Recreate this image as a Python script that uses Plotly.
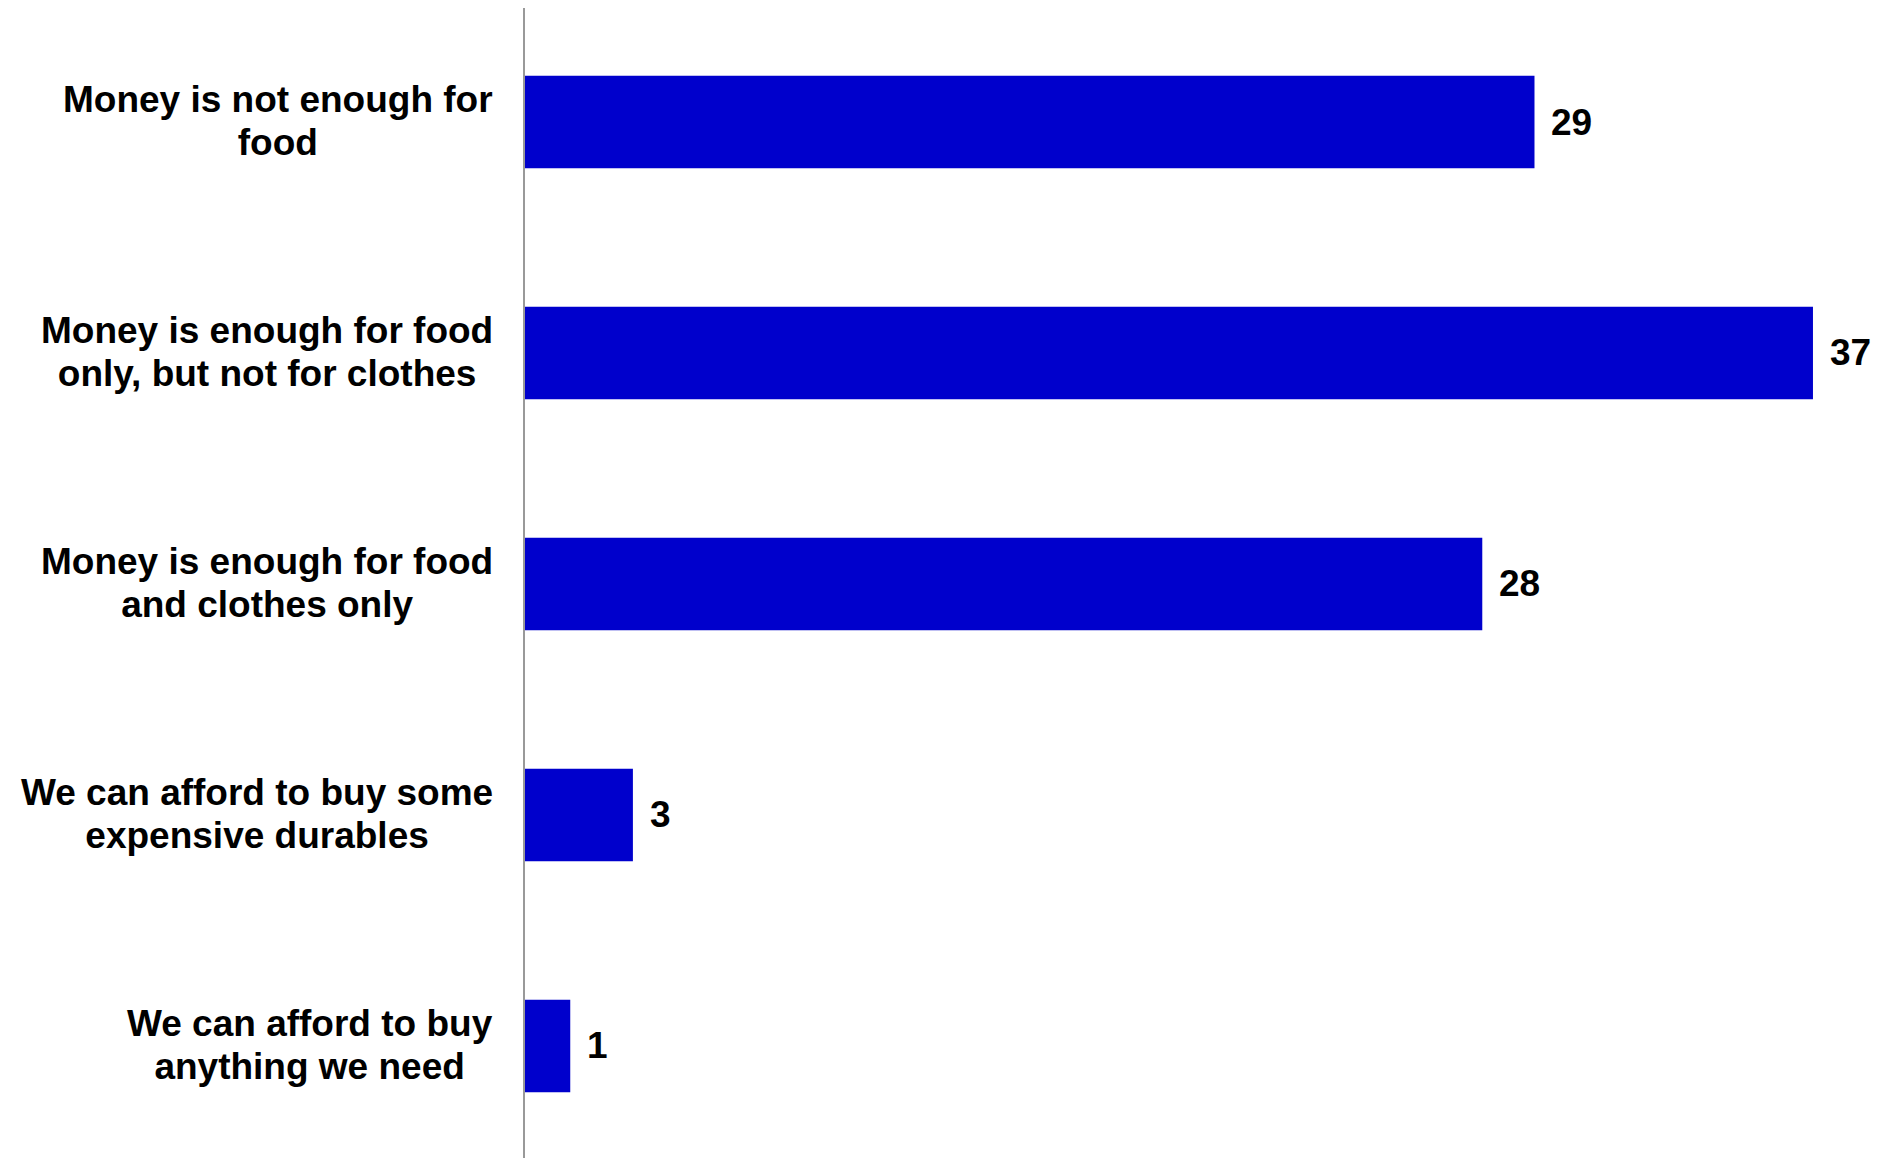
import plotly.graph_objects as go

categories = [
    "Money is not enough for<br>food",
    "Money is enough for food<br>only, but not for clothes",
    "Money is enough for food<br>and clothes only",
    "We can afford to buy some<br>expensive durables",
    "We can afford to buy<br>anything we need",
]
values = [29, 37, 27.5, 3.1, 1.3]
value_labels = ["29", "37", "28", "3", "1"]

BAR_COLOR = "#0000CC"
FONT = "Liberation Sans, Arial, sans-serif"
TEXT_PX = 37

fig = go.Figure()
fig.add_trace(go.Bar(
    x=values,
    y=categories,
    orientation="h",
    marker=dict(color=BAR_COLOR, line=dict(width=0)),
    width=0.4,
    hoverinfo="skip",
))

annotations = []
for cat in categories:
    lines = cat.split("<br>")
    txt = "<br>".join(f"<span style='font-size:{TEXT_PX}px'>{ln}</span>" for ln in lines)
    annotations.append(dict(
        x=0, xref="paper", y=cat, yref="y",
        xanchor="right", yanchor="middle", xshift=-30, yshift=1,
        text=txt, showarrow=False, align="center",
        font=dict(family=FONT, size=33, color="black", weight="bold"),
    ))
for cat, v, lab in zip(categories, values, value_labels):
    annotations.append(dict(
        x=v, xref="x", y=cat, yref="y",
        xanchor="left", yanchor="middle", xshift=15,
        text=lab, showarrow=False,
        font=dict(family=FONT, size=TEXT_PX, color="black", weight="bold"),
    ))

W, H = 1878, 1150
L = 517
plot_w = W - L
fig.update_layout(
    width=W, height=H,
    margin=dict(l=L, r=0, t=0, b=0, pad=0),
    paper_bgcolor="white", plot_bgcolor="white",
    showlegend=False,
    annotations=annotations,
    xaxis=dict(range=[0, plot_w / 34.81], visible=False, showgrid=False, zeroline=False),
    yaxis=dict(
        type="category", categoryorder="array", categoryarray=categories,
        range=[4.485, -0.4935],
        showticklabels=False, showgrid=False, zeroline=False,
        showline=True, linecolor="#999999", linewidth=2, ticks="",
    ),
)

fig.write_html("out.html")
